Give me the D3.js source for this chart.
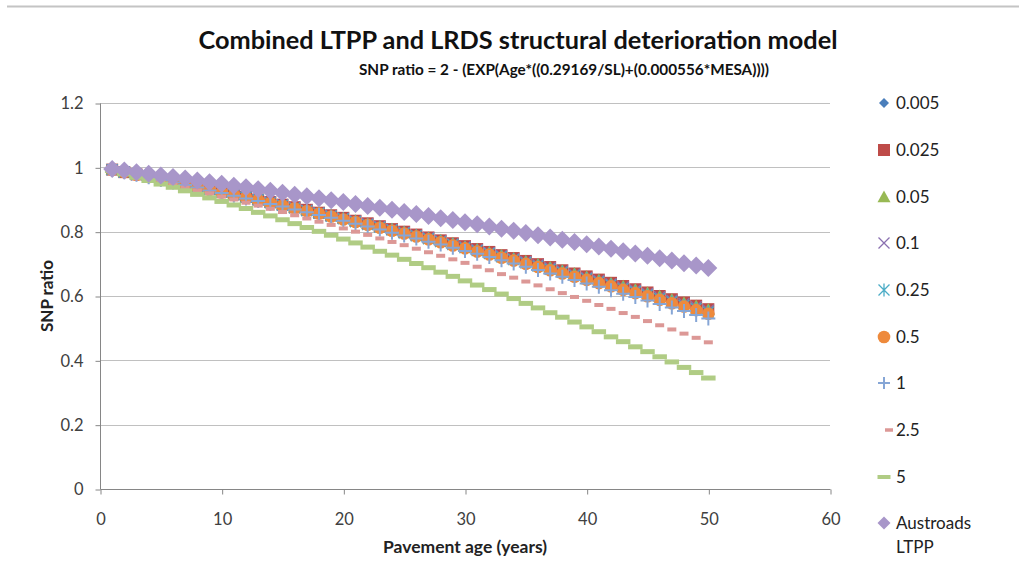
<!DOCTYPE html>
<html><head><meta charset="utf-8">
<script src="https://cdn.jsdelivr.net/npm/d3@7"></script>
<style>
html,body{margin:0;padding:0;background:#fff;}
svg{display:block;font-family:Lato,"Open Sans",sans-serif;}
</style></head>
<body>
<svg id="chart" width="1019" height="569"></svg>
<script>
const ages = [1,2,3,4,5,6,7,8,9,10,11,12,13,14,15,16,17,18,19,20,21,22,23,24,25,26,27,28,29,30,31,32,33,34,35,36,37,38,39,40,41,42,43,44,45,46,47,48,49,50];

const s0005 = [0.993,0.985,0.978,0.970,0.963,0.955,0.948,0.940,0.932,0.924,0.916,0.909,0.901,0.893,0.884,0.876,0.868,0.860,0.851,0.843,0.834,0.826,0.817,0.809,0.800,0.791,0.782,0.773,0.764,0.755,0.746,0.737,0.728,0.719,0.709,0.700,0.690,0.681,0.671,0.661,0.651,0.642,0.632,0.622,0.611,0.601,0.591,0.581,0.570,0.560];
const s0025 = [0.993,0.985,0.978,0.970,0.963,0.955,0.948,0.940,0.932,0.924,0.916,0.908,0.900,0.892,0.884,0.876,0.868,0.859,0.851,0.843,0.834,0.826,0.817,0.808,0.800,0.791,0.782,0.773,0.764,0.755,0.746,0.737,0.727,0.718,0.709,0.699,0.690,0.680,0.670,0.661,0.651,0.641,0.631,0.621,0.611,0.600,0.590,0.580,0.570,0.559];
const s005 = [0.993,0.985,0.978,0.970,0.963,0.955,0.947,0.940,0.932,0.924,0.916,0.908,0.900,0.892,0.884,0.876,0.868,0.859,0.851,0.842,0.834,0.825,0.817,0.808,0.799,0.790,0.781,0.773,0.764,0.754,0.745,0.736,0.727,0.717,0.708,0.699,0.689,0.679,0.670,0.660,0.650,0.640,0.630,0.620,0.610,0.600,0.589,0.579,0.569,0.558];
const s01 = [0.993,0.985,0.978,0.970,0.963,0.955,0.947,0.939,0.932,0.924,0.916,0.908,0.900,0.892,0.884,0.875,0.867,0.859,0.850,0.842,0.833,0.825,0.816,0.807,0.798,0.789,0.781,0.772,0.762,0.753,0.744,0.735,0.726,0.716,0.707,0.697,0.688,0.678,0.668,0.658,0.648,0.638,0.628,0.618,0.608,0.598,0.587,0.577,0.567,0.556];
const s025 = [0.993,0.985,0.977,0.970,0.962,0.954,0.947,0.939,0.931,0.923,0.915,0.907,0.899,0.890,0.882,0.874,0.865,0.857,0.848,0.840,0.831,0.822,0.814,0.805,0.796,0.787,0.778,0.769,0.760,0.750,0.741,0.732,0.722,0.713,0.703,0.693,0.683,0.674,0.664,0.654,0.644,0.634,0.623,0.613,0.603,0.592,0.582,0.571,0.561,0.550];
const s05 = [0.992,0.985,0.977,0.970,0.962,0.954,0.946,0.938,0.930,0.922,0.914,0.906,0.898,0.889,0.881,0.873,0.864,0.856,0.847,0.838,0.830,0.821,0.812,0.803,0.794,0.785,0.776,0.767,0.757,0.748,0.738,0.729,0.719,0.710,0.700,0.690,0.680,0.670,0.660,0.650,0.640,0.630,0.619,0.609,0.599,0.588,0.577,0.567,0.556,0.545];
const s1 = [0.992,0.985,0.977,0.969,0.961,0.953,0.945,0.937,0.928,0.920,0.912,0.903,0.895,0.886,0.878,0.869,0.860,0.852,0.843,0.834,0.825,0.816,0.807,0.797,0.788,0.779,0.769,0.760,0.750,0.740,0.731,0.721,0.711,0.701,0.691,0.681,0.670,0.660,0.650,0.639,0.629,0.618,0.607,0.597,0.586,0.575,0.564,0.553,0.541,0.530];
const s25 = [0.991,0.983,0.974,0.965,0.956,0.947,0.937,0.928,0.919,0.909,0.900,0.890,0.881,0.871,0.861,0.851,0.841,0.831,0.821,0.810,0.800,0.790,0.779,0.768,0.758,0.747,0.736,0.725,0.714,0.703,0.691,0.680,0.668,0.657,0.645,0.633,0.621,0.609,0.597,0.585,0.572,0.560,0.547,0.535,0.522,0.509,0.496,0.483,0.470,0.456];
const s5 = [0.990,0.980,0.969,0.959,0.948,0.938,0.927,0.916,0.905,0.894,0.883,0.872,0.860,0.849,0.837,0.825,0.813,0.801,0.789,0.777,0.765,0.752,0.739,0.727,0.714,0.701,0.688,0.674,0.661,0.647,0.634,0.620,0.606,0.592,0.577,0.563,0.548,0.534,0.519,0.504,0.489,0.473,0.458,0.442,0.427,0.411,0.395,0.378,0.362,0.345];
const austroads = [0.995,0.990,0.985,0.980,0.975,0.970,0.965,0.959,0.954,0.949,0.943,0.938,0.932,0.927,0.921,0.915,0.910,0.904,0.898,0.892,0.886,0.880,0.874,0.868,0.861,0.855,0.849,0.842,0.836,0.829,0.823,0.816,0.809,0.803,0.796,0.789,0.782,0.775,0.768,0.761,0.754,0.747,0.739,0.732,0.725,0.717,0.710,0.702,0.695,0.687];

const seriesNames = ["0.005","0.025","0.05","0.1","0.25","0.5","1","2.5","5","Austroads LTPP"];
const seriesValues = [s0005,s0025,s005,s01,s025,s05,s1,s25,s5,austroads];
const xTicks = [0,10,20,30,40,50,60];
const yTicks = [0,0.2,0.4,0.6,0.8,1,1.2];
const titleText = "Combined LTPP and LRDS structural deterioration model";
const subtitleText = "SNP ratio = 2 - (EXP(Age*((0.29169/SL)+(0.000556*MESA))))";
const xTitle = "Pavement age (years)";
const yTitle = "SNP ratio";

// marker styles
const styles = [
  {shape:"diamond", size:5, fill:"#4a7ebb"},
  {shape:"square", size:6, fill:"#be4b48"},
  {shape:"triangle", size:6.5, fill:"#98b954"},
  {shape:"x", size:5.5, stroke:"#8a70b0", sw:1.3},
  {shape:"asterisk", size:5.5, stroke:"#4bacc6", sw:1.3},
  {shape:"circle", size:6.3, fill:"#ee8a3c"},
  {shape:"plus", size:7, stroke:"#86a6d6", sw:2},
  {shape:"dash", w:9, h:4, fill:"#dc9896"},
  {shape:"dash", w:14.5, h:5, fill:"#b0cc84"},
  {shape:"diamond", size:9, fill:"#a896c9"}
];

function markerPath(st){
  const r = st.size;
  switch(st.shape){
    case "diamond": return `M0,${-r}L${r},0L0,${r}L${-r},0Z`;
    case "square": return `M${-r},${-r}H${r}V${r}H${-r}Z`;
    case "triangle": return `M0,${-r}L${r},${r*0.8}L${-r},${r*0.8}Z`;
    case "circle": return `M${r},0A${r},${r} 0 1,1 ${-r},0A${r},${r} 0 1,1 ${r},0Z`;
    case "x": return `M${-r},${-r}L${r},${r}M${-r},${r}L${r},${-r}`;
    case "asterisk": return `M${-r},${-r}L${r},${r}M${-r},${r}L${r},${-r}M0,${-r*1.2}V${r*1.2}`;
    case "plus": return `M${-r},0H${r}M0,${-r}V${r}`;
    case "dash": return `M${-st.w/2},${-st.h/2}H${st.w/2}V${st.h/2}H${-st.w/2}Z`;
  }
}
function applyStyle(sel, st){
  if(st.fill){ sel.attr("fill", st.fill).attr("stroke","none"); }
  else { sel.attr("fill","none").attr("stroke", st.stroke).attr("stroke-width", st.sw); }
}

const svg = d3.select("#chart");
const x = d3.scaleLinear().domain([0,60]).range([100,830]);
const y = d3.scaleLinear().domain([0,1.2]).range([489,103]);

// top frame line
svg.append("line").attr("x1",7).attr("x2",1019).attr("y1",6.5).attr("y2",6.5)
  .attr("stroke","#c4c4c4").attr("stroke-width",2);

// gridlines
svg.append("g").selectAll("line").data(yTicks.filter(d=>d>0)).join("line")
  .attr("x1",x(0)).attr("x2",x(60)).attr("y1",d=>Math.round(y(d))+0.5).attr("y2",d=>Math.round(y(d))+0.5)
  .attr("stroke","#c0c0c0").attr("stroke-width",1);

// axes
const yAxis = d3.axisLeft(y).tickValues(yTicks).tickSize(5).tickPadding(12).tickFormat(d=>d3.format("")(+d.toFixed(1)));
const gy = svg.append("g").attr("transform",`translate(${x(0)+0.5},0.5)`).call(yAxis);
const xAxis = d3.axisBottom(x).tickValues(xTicks).tickSize(5).tickPadding(24);
const gx = svg.append("g").attr("transform",`translate(0.5,${Math.round(y(0))+0.5})`).call(xAxis);
[gy,gx].forEach(g=>{
  g.select(".domain").attr("stroke","#868686");
  g.selectAll(".tick line").attr("stroke","#868686");
  g.selectAll(".tick text").attr("fill","#404040").attr("font-size",16.5).attr("font-family","Lato, sans-serif");
});
gx.selectAll(".tick text").attr("dy","0.4em");
gx.select(".domain").attr("d",`M${x(0)},0H${x(60)}`);
gy.select(".domain").attr("d",`M0,${y(1.2)}V${y(0)}`);

// series
const plot = svg.append("g");
seriesValues.forEach((vals,i)=>{
  const st = styles[i];
  const g = plot.append("g");
  const p = g.selectAll("path").data(ages.map((a,j)=>({a, v:vals[j]}))).join("path")
    .attr("d", markerPath(st))
    .attr("transform", d=>`translate(${x(d.a)},${y(d.v)})`);
  applyStyle(p, st);
});

// legend
const legY = [103,150,197,243,290,337,383,430,477,523];
const legStyles = [
  {shape:"diamond", size:5},
  {shape:"square", size:6},
  {shape:"triangle", size:6.5},
  {shape:"x", size:5.5},
  {shape:"asterisk", size:5.5},
  {shape:"circle", size:6.3},
  {shape:"plus", size:6},
  {shape:"dash", w:8, h:3.5},
  {shape:"dash", w:13, h:4},
  {shape:"diamond", size:6.5}
];
const leg = svg.append("g");
seriesNames.forEach((n,i)=>{
  const st = styles[i];
  const m = leg.append("path").attr("d", markerPath(Object.assign({}, st, legStyles[i])))
    .attr("transform",`translate(${i===7?889:884},${legY[i]})`);
  applyStyle(m, st);
  const t = leg.append("text").attr("x",896).attr("y",legY[i]+6)
    .attr("font-size",17).attr("fill","#222");
  if(i===9){
    t.append("tspan").attr("x",896).text("Austroads");
    t.append("tspan").attr("x",896).attr("dy",23.5).text("LTPP");
  } else t.text(n);
});

// titles
svg.append("text").attr("x",518).attr("y",49).attr("text-anchor","middle")
  .attr("font-weight","bold").attr("font-size",25.3).attr("fill","#111").text(titleText);
svg.append("text").attr("x",564).attr("y",75).attr("text-anchor","middle")
  .attr("font-weight","bold").attr("font-size",15.3).attr("fill","#111").text(subtitleText);
svg.append("text").attr("x",465).attr("y",553).attr("text-anchor","middle")
  .attr("font-weight","bold").attr("font-size",17.5).attr("fill","#222").text(xTitle);
svg.append("text").attr("transform","translate(53,296) rotate(-90)").attr("text-anchor","middle")
  .attr("font-weight","bold").attr("font-size",17).attr("fill","#222").text(yTitle);
</script>
</body></html>
